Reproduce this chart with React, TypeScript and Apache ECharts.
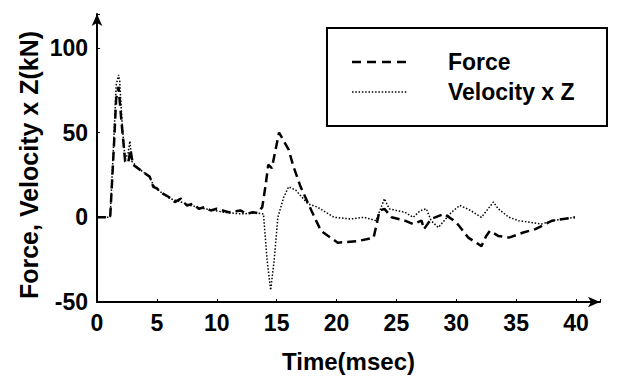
import React, { useEffect, useRef } from "react";
import * as echarts from "echarts";

const forceTime = [0, 1.1, 1.4, 1.6, 1.8, 2.0, 2.35, 2.6, 2.8, 3.0, 3.6, 4.4, 4.7, 5.0, 5.5, 6.0, 6.5, 7.0, 7.5, 8.0, 8.5, 9.0, 9.5, 10.0, 11.0, 12.0, 12.5, 13.0, 13.4, 13.8, 14.1, 14.3, 14.6, 15.2, 16.0, 16.4, 17.0, 17.9, 18.7, 20.1, 21.8, 23.1, 23.6, 24.0, 24.6, 25.7, 26.4, 27.1, 27.3, 27.9, 29.0, 30.0, 31.0, 32.1, 32.5, 32.8, 33.5, 34.4, 35.6, 36.6, 38.0, 39.9];
const forceValues = [0, 0, 40, 70, 77, 60, 33, 32, 40, 31, 28, 24, 18, 17, 14, 12, 9, 11, 7, 8, 5, 6, 4, 5, 3, 4, 2, 3, 2.5, 6, 20, 31, 29, 50, 40, 30, 18, 4, -8, -15, -14, -12, 4, 5, 0, -2, -4, -2, -7, -1, 2, -3, -12, -17, -11, -8, -11, -12, -9, -7, -2, 0];

const velTime = [0, 1.1, 1.4, 1.6, 1.8, 1.9, 2.1, 2.35, 2.6, 2.75, 2.9, 3.6, 4.4, 4.7, 5.3, 6.1, 7.0, 7.8, 9.0, 10.6, 12.0, 13.4, 13.9, 14.2, 14.5, 14.8, 15.1, 15.6, 16.0, 16.6, 17.6, 18.4, 19.8, 21.2, 22.3, 23.3, 24.0, 24.4, 25.0, 25.7, 26.4, 27.0, 27.5, 27.9, 28.5, 29.6, 30.3, 31.2, 32.1, 33.1, 33.5, 34.4, 35.2, 37.1, 38.0, 39.9];
const velValues = [0, 0, 45, 78, 84, 80, 55, 34, 38, 45, 33, 28, 24, 19, 15, 11, 9, 7, 5, 3, 2, 2.5, 2, -25, -43, -25, 0, 12, 18, 16, 8, 6, 0, -1, 0, -2, 11, 5, 4, 3, 0, 4, 5, -2, -6, 3, 7, 4, 0, 9, 5, 0, -2, -4, -2, 0];

const yTicks = [-50, 0, 50, 100];
const xTicks = [0, 5, 10, 15, 20, 25, 30, 35, 40];
const legendNames = ["Force", "Velocity x Z"];
const yAxisTitle = "Force, Velocity x Z(kN)";
const xAxisTitle = "Time(msec)";

const FONT = "'Liberation Sans', Arial, sans-serif";

export default function App() {
  const ref = useRef<HTMLDivElement>(null);
  useEffect(() => {
    if (!ref.current) return;
    const chart = echarts.init(ref.current, null, { renderer: "svg" });
    const forceData = forceTime.map((t, i) => [t, forceValues[i]]);
    const velData = velTime.map((t, i) => [t, velValues[i]]);
    chart.setOption({
      animation: false,
      backgroundColor: "#ffffff",
      grid: { left: 97, right: 19, top: 14, bottom: 77 },
      xAxis: {
        type: "value",
        min: 0,
        max: 42,
        interval: 5,
        name: xAxisTitle,
        nameLocation: "middle",
        nameGap: 47,
        nameTextStyle: { fontFamily: FONT, fontWeight: "bold", fontSize: 24, color: "#000" },
        axisLine: { show: true, onZero: false, symbol: ["none", "arrow"], symbolSize: [8, 12], lineStyle: { color: "#000", width: 2 } },
        axisTick: { show: true, inside: true, length: 3, lineStyle: { color: "#000" } },
        splitLine: { show: false },
        axisLabel: {
          margin: 9,
          fontFamily: FONT,
          fontWeight: "bold",
          fontSize: 23,
          color: "#000",
          formatter: (v: number) => (xTicks.includes(v) ? String(v) : ""),
        },
      },
      yAxis: {
        type: "value",
        min: -50,
        max: 120,
        interval: 50,
        axisLine: { show: true, onZero: false, symbol: ["none", "arrow"], symbolSize: [8, 12], lineStyle: { color: "#000", width: 2 } },
        axisTick: { show: true, inside: true, length: 3, lineStyle: { color: "#000" } },
        splitLine: { show: false },
        axisLabel: {
          margin: 9,
          fontFamily: FONT,
          fontWeight: "bold",
          fontSize: 23,
          color: "#000",
          formatter: (v: number) => (yTicks.includes(v) ? String(v) : ""),
        },
      },
      series: [
        {
          name: legendNames[0],
          type: "line",
          data: forceData,
          showSymbol: false,
          lineStyle: { color: "#000", width: 2.5, type: [9, 5] },
        },
        {
          name: legendNames[1],
          type: "line",
          data: velData,
          showSymbol: false,
          lineStyle: { color: "#000", width: 1.5, type: [1.5, 1.8] },
        },
      ],
      graphic: [
        {
          type: "text",
          x: 29,
          y: 165,
          rotation: Math.PI / 2,
          style: { text: yAxisTitle, fontFamily: FONT, fontWeight: "bold", fontSize: 25, fill: "#000", align: "center", verticalAlign: "middle" },
        },
        {
          type: "rect",
          shape: { x: 327, y: 28, width: 280, height: 98 },
          style: { fill: "#fff", stroke: "#000", lineWidth: 2 },
          z: 10,
        },
        {
          type: "line",
          shape: { x1: 352, y1: 62, x2: 407, y2: 62 },
          style: { stroke: "#000", lineWidth: 2.5, lineDash: [9, 6] },
          z: 11,
        },
        {
          type: "line",
          shape: { x1: 352, y1: 92, x2: 407, y2: 92 },
          style: { stroke: "#000", lineWidth: 1.5, lineDash: [1.5, 1.8] },
          z: 11,
        },
        {
          type: "text",
          x: 448,
          y: 62,
          style: { text: legendNames[0], fontFamily: FONT, fontWeight: "bold", fontSize: 23, fill: "#000", verticalAlign: "middle" },
          z: 11,
        },
        {
          type: "text",
          x: 448,
          y: 92,
          style: { text: legendNames[1], fontFamily: FONT, fontWeight: "bold", fontSize: 23, fill: "#000", verticalAlign: "middle" },
          z: 11,
        },
      ],
    });
    return () => chart.dispose();
  }, []);
  return <div ref={ref} style={{ width: 619, height: 379, position: "absolute", left: 0, top: 0 }} />;
}
